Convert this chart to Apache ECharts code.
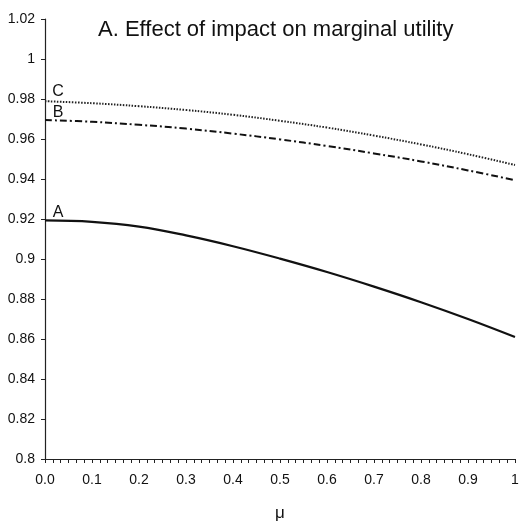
<!DOCTYPE html>
<html>
<head>
<meta charset="utf-8">
<script src="https://cdn.jsdelivr.net/npm/echarts@6/dist/echarts.min.js"></script>
<style>
    html, body { margin: 0; padding: 0; background: #fff; }
    #chart { width: 522px; height: 527px; }
</style>
</head>
<body>
<div id="chart"></div>
<script>
    // values
    var mu = [0, 0.1, 0.2, 0.3, 0.4, 0.5, 0.6, 0.7, 0.8, 0.9, 1];
    var curveA = [0.9193, 0.9186, 0.9162, 0.9118, 0.9064, 0.9002, 0.8935, 0.8862, 0.8784, 0.8700, 0.8610];
    var curveB = [0.9695, 0.9686, 0.9671, 0.9652, 0.9627, 0.9598, 0.9565, 0.9528, 0.9488, 0.9443, 0.9394];
    var curveC = [0.9789, 0.9779, 0.9764, 0.9745, 0.9721, 0.9691, 0.9657, 0.9617, 0.9573, 0.9524, 0.9470];
    var curveNames = ['A', 'B', 'C'];

    var font = '"Liberation Sans", Arial, sans-serif';

    function lineSeries(name, values, dy, lineStyle) {
        return {
            name: name,
            type: 'line',
            smooth: 0.4,
            showSymbol: false,
            symbol: 'none',
            data: mu.map(function (x, i) { return [x, values[i]]; }),
            lineStyle: lineStyle,
            // curve name written just above its left end
            markPoint: {
                symbol: 'circle',
                symbolSize: 2,
                itemStyle: { color: 'rgba(0,0,0,0)' },
                label: {
                    show: true,
                    position: 'top',
                    distance: 2,
                    offset: [13, dy],
                    formatter: name,
                    color: '#111',
                    fontSize: 16,
                    fontFamily: font
                },
                data: [{ coord: [mu[0], values[0]] }]
            }
        };
    }

    var chart = echarts.init(document.getElementById('chart'));
    chart.setOption({
        backgroundColor: '#fff',
        animation: false,
        title: {
            text: 'A. Effect of impact on marginal utility',
            left: 93,
            top: 14,
            textStyle: {
                fontFamily: font,
                fontWeight: 'normal',
                fontSize: 22,
                color: '#111'
            }
        },
        grid: { left: 45, right: 7, top: 19, bottom: 64 },
        xAxis: {
            type: 'value',
            min: 0,
            max: 1,
            interval: 0.1,
            name: 'μ',
            nameLocation: 'middle',
            nameGap: 46,
            nameTextStyle: { fontFamily: font, fontSize: 17, color: '#111' },
            axisLine: { lineStyle: { color: '#222', width: 1.2 } },
            axisTick: { length: 4, lineStyle: { color: '#222' } },
            minorTick: { show: true, splitNumber: 6, length: 4, lineStyle: { color: '#222' } },
            splitLine: { show: false },
            axisLabel: {
                margin: 14,
                fontFamily: font,
                fontSize: 14,
                color: '#111',
                formatter: function (v) { return v === 1 ? '1' : v.toFixed(1); }
            }
        },
        yAxis: {
            type: 'value',
            min: 0.8,
            max: 1.02,
            interval: 0.02,
            offset: 3,
            axisLine: { show: true, lineStyle: { color: '#222', width: 1.2 } },
            axisTick: { show: true, length: 4, lineStyle: { color: '#222' } },
            splitLine: { show: false },
            axisLabel: {
                margin: 7,
                fontFamily: font,
                fontSize: 14,
                color: '#111'
            }
        },
        series: [
            lineSeries(curveNames[0], curveA, 3, { color: '#111', width: 2.2, type: 'solid' }),
            lineSeries(curveNames[1], curveB, 4, { color: '#111', width: 2, type: [7, 3, 2, 3] }),
            lineSeries(curveNames[2], curveC, 1, { color: '#222', width: 2, type: [1.5, 1.5] })
        ]
    });
</script>
</body>
</html>
